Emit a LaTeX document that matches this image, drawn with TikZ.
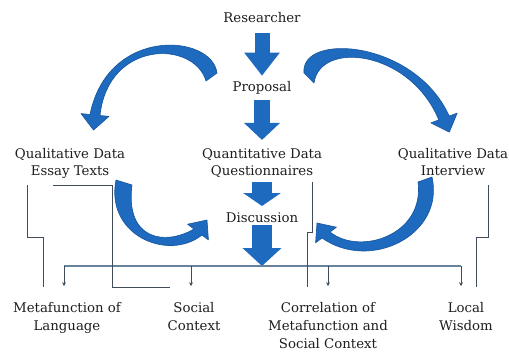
\documentclass[tikz,border=0pt]{standalone}
\usepackage{fontspec}
\setmainfont{DejaVu Serif}
\usetikzlibrary{arrows.meta}

\definecolor{flowblue}{RGB}{30,106,190}
\definecolor{flowedge}{RGB}{22,84,158}
\definecolor{linkgray}{RGB}{64,76,90}
\definecolor{railblue}{RGB}{105,130,156}
\definecolor{inkgray}{RGB}{30,30,30}

\begin{document}
\begin{tikzpicture}[x=1pt,y=-1pt,
  lbl/.style={inner sep=0pt, anchor=base, align=center, text=inkgray,
              font=\fontsize{13.3}{18}\selectfont},
  toplbl/.style={lbl, font=\fontsize{13.3}{17}\selectfont},
  blk/.style n args={3}{draw=flowblue, line width=#1pt,
              -{Triangle[width=#2pt,length=#3pt]}},
  curvearrow/.style={fill=flowblue, draw=flowedge, line width=0.6pt, line join=round},
  link/.style={draw=linkgray, line width=1pt},
  rail/.style={draw=railblue, line width=1.2pt},
  drop/.style={draw=linkgray, line width=0.9pt, -{Stealth[length=4pt,width=4pt]}}]

\useasboundingbox[fill=white] (0,0) rectangle (509,356);

% labels (base anchor sits on the last line)
\node[lbl]    (res)   at (262,22)  {Researcher};
\node[lbl]    (prop)  at (262,91)  {Proposal};
\node[toplbl] (qual1) at (70,175)  {Qualitative Data\\Essay Texts};
\node[toplbl] (quant) at (262,175) {Quantitative Data\\Questionnaires};
\node[toplbl] (qual2) at (453,175) {Qualitative Data\\Interview};
\node[lbl]    (disc)  at (262,222) {Discussion};
\node[lbl]    (meta)  at (67,330)  {Metafunction of\\Language};
\node[lbl]    (soc)   at (194,330) {Social\\Context};
\node[lbl]    (corr)  at (328,348) {Correlation of\\Metafunction and\\Social Context};
\node[lbl]    (loc)   at (466,330) {Local\\Wisdom};

% straight block arrows down the middle
\draw[blk={15}{34}{23}, shorten <=11pt, shorten >=5pt] (res.south) -- (prop.north);
\draw[blk={16}{35}{17}, shorten <=6pt, shorten >=8pt] (prop.south) -- (quant.north);
\draw[blk={20}{37}{13}, shorten <=5pt, shorten >=6pt] (quant.south) -- (disc.north);
\coordinate (hub) at (262,266);
\draw[blk={20}{38}{18}, shorten <=3pt] (disc.south) -- (hub);

% distribution rail with drops to the four results
\coordinate (d1) at (64,266);
\coordinate (d2) at (191,266);
\coordinate (d3) at (328,266);
\coordinate (d4) at (461,266);
\draw[rail] (d1) -- (d4);
\draw[drop, shorten >=15.5pt] (d1) -- (d1 |- meta.north);
\draw[drop, shorten >=15.5pt] (d2) -- (d2 |- soc.north);
\draw[drop, shorten >=15.5pt] (d3) -- (d3 |- corr.north);
\draw[drop, shorten >=15.5pt] (d4) -- (d4 |- loc.north);

% thin links from the data sources to the results
\draw[link] ([yshift=-7pt]qual1.south -| 27,0) |- (43,237)
            -- ([yshift=14.5pt]meta.north -| 43,0);
\draw[link] ([yshift=-7pt]qual1.south -| 53,0)
            -| ([yshift=14.5pt]soc.north -| 112,0)
            -- ([yshift=14.5pt]soc.north -| 170,0);
\draw[link] ([yshift=-5pt]quant.south -| 312,0) |- (307,232)
            -- ([yshift=14.5pt]corr.north -| 307,0);
\draw[link] ([yshift=-10pt]qual2.south -| 488,0) |- (476,237)
            -- ([yshift=14.5pt]loc.north -| 476,0);

% curved arrows: proposal out to the qualitative sources
\path[curvearrow] (217,73) .. controls (212,34) and (108,26) .. (90,114.5)
  -- (81,113.6) -- (93.5,130) -- (109,116.4) -- (100,115.5)
  .. controls (108,40) and (194,40) .. (206,81) -- cycle;
\path[curvearrow] (304,73) .. controls (300,32) and (415,40) .. (449.2,116.1)
  -- (457.2,113.1) -- (449.3,132.1) -- (430.8,122.9) -- (438.8,119.9)
  .. controls (410,50) and (320,40) .. (314,83) -- cycle;

% curved arrows: qualitative sources back into the discussion
\path[curvearrow] (116,180) .. controls (105,235) and (168,262) .. (202,235)
  -- (208.4,239.8) -- (207,220) -- (187.6,224.2) -- (194,229)
  .. controls (165,246) and (125,240) .. (132,185) -- cycle;
\path[curvearrow] (432,177) .. controls (445,235) and (370,272) .. (322,238)
  -- (315.6,242.8) -- (317,223) -- (336.4,227.2) -- (330,232)
  .. controls (360,256) and (425,235) .. (418,182) -- cycle;

\end{tikzpicture}
\end{document}
